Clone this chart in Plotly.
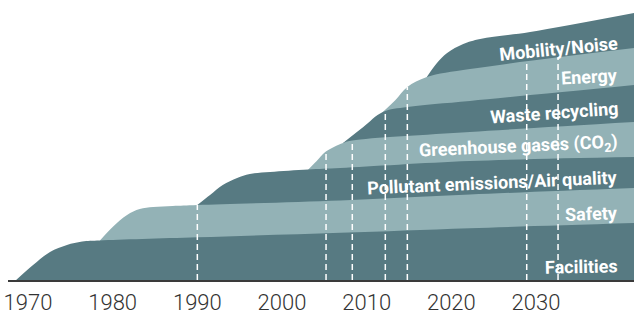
import numpy as np
import plotly.graph_objects as go

# ---- data: cumulative top boundary of each band (year, level) ----
facilities_x = [1968.6, 1970.6, 1972.6, 1974.6, 1976.4, 1978.5, 1990.0, 2006.9, 2022.2, 2041.6]
facilities_y = [0, 15, 28, 35, 38.5, 39.5, 42.7, 47.2, 51.8, 57]

safety_x = [1978.5, 1980.0, 1981.7, 1983.2, 1984.8, 1987.1, 1990.0, 2006.9, 2022.2, 2041.6]
safety_y = [39.5, 53, 65, 71, 73, 74, 75, 79.5, 85.5, 92]

pollutant_x = [1990.0, 1991.5, 1993.0, 1994.7, 1996.2, 1998.6, 2003.1, 2006.9, 2022.2, 2041.6]
pollutant_y = [75, 85, 95, 102, 106, 108, 110.5, 112, 119, 123]

ghg_x = [2003.1, 2004.1, 2005.1, 2007.2, 2008.3, 2022.2, 2041.6]
ghg_y = [110.5, 119, 128, 137, 139.5, 148, 158]

waste_x = [2007.2, 2009.6, 2011.9, 2014.8, 2022.2, 2041.6]
waste_y = [137, 153, 168, 173, 179, 195]

energy_x = [2011.9, 2013.4, 2014.8, 2017.1, 2022.2, 2041.6]
energy_y = [168, 180, 193, 203, 211, 232]

mobility_x = [2017.1, 2018.3, 2019.5, 2021.4, 2023.4, 2029.3, 2041.6]
mobility_y = [203, 217, 227, 236, 241, 248, 267]

labels = ["Facilities", "Safety", "Pollutant emissions/Air quality",
          "Greenhouse gases (CO<sub>2</sub>)", "Waste recycling", "Energy", "Mobility/Noise"]

# dashed milestone lines: year and the band whose top they reach
dash_years = [1990, 2005.2, 2008.3, 2012.2, 2014.8, 2028.9, 2032.6]
dash_reach = [1, 3, 3, 4, 5, 5, 5]

tick_years = [1970, 1980, 1990, 2000, 2010, 2020, 2030]

# ---- styling ----
DARK = "#577a82"
LIGHT = "#93b2b6"
band_x = [facilities_x, safety_x, pollutant_x, ghg_x, waste_x, energy_x, mobility_x]
band_y = [facilities_y, safety_y, pollutant_y, ghg_y, waste_y, energy_y, mobility_y]
band_col = [DARK, LIGHT, DARK, LIGHT, DARK, LIGHT, DARK]

# label placement (layout): right edge year, vertical centre, tilt
LABEL_RIGHT = 2040.0
label_mid = [13.5, 67, 98, 133, 168, 204, 232]
label_ang = [-1, -2, -2.5, -2.6, -4, -3, -5.5]

FONT = "Roboto, Liberation Sans, Arial, sans-serif"

fig = go.Figure()

# paint from top band down so each lower band covers what lies below its top
for i in reversed(range(len(band_x))):
    fig.add_trace(go.Scatter(
        x=band_x[i], y=band_y[i], mode="lines",
        line=dict(width=0, shape="spline", color=band_col[i]),
        fill="tozeroy", fillcolor=band_col[i],
        hoverinfo="skip", showlegend=False))

for yr, k in zip(dash_years, dash_reach):
    top = float(np.interp(yr, band_x[k], band_y[k]))
    fig.add_trace(go.Scatter(
        x=[yr, yr], y=[0, top], mode="lines",
        line=dict(color="white", width=1.5, dash="6px,4px"),
        hoverinfo="skip", showlegend=False))

for txt, ly, ang in zip(labels, label_mid, label_ang):
    fig.add_annotation(x=LABEL_RIGHT, y=ly, xref="x", yref="y", text=txt, showarrow=False,
                       textangle=ang, xanchor="right", yanchor="middle",
                       font=dict(family=FONT, size=18, color="white", weight="bold"))

fig.update_layout(
    width=634, height=314,
    margin=dict(l=8, r=0, t=0, b=34),
    paper_bgcolor="white", plot_bgcolor="white",
    xaxis=dict(range=[1967.64, 2041.57], showgrid=False, zeroline=False,
               showline=True, linecolor="#3a3a3a", linewidth=2, automargin=False,
               tickvals=tick_years, ticktext=[str(t) for t in tick_years],
               ticks="", ticklabelstandoff=2,
               tickfont=dict(family=FONT, size=22, color="#333333", weight=300)),
    yaxis=dict(range=[0, 280], visible=False, automargin=False),
)

fig.write_html("out.html", config={"displayModeBar": False},
               post_script="document.body.style.margin='0';document.body.style.padding='0';")
